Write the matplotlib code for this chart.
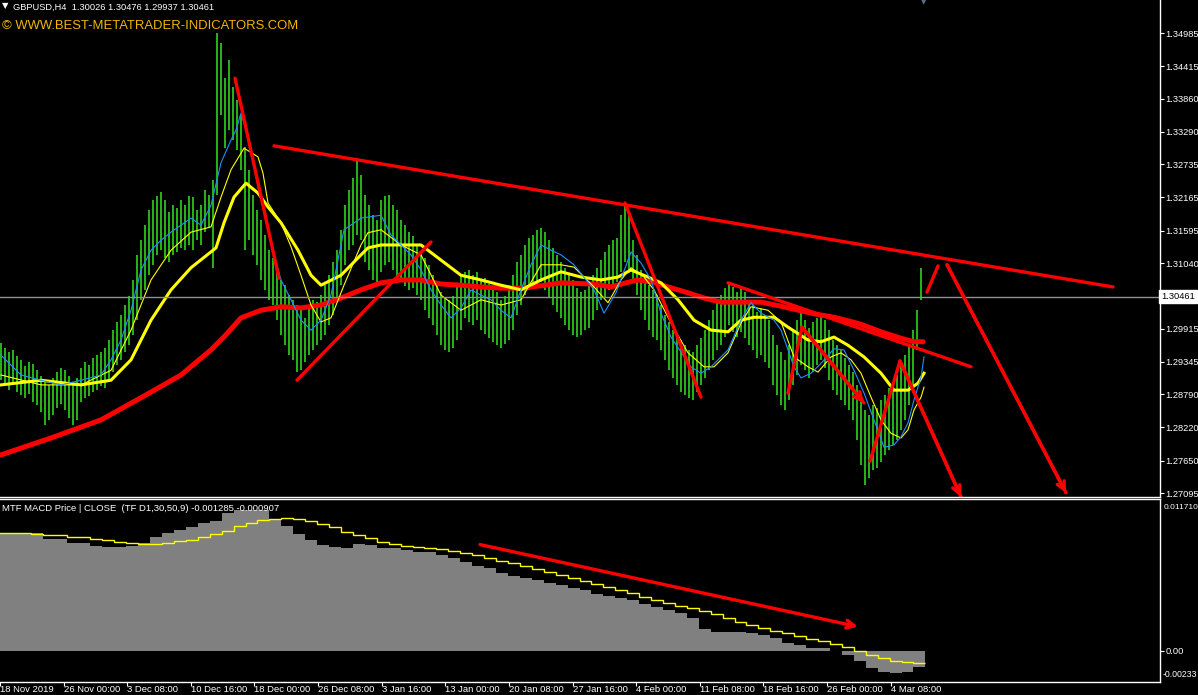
import matplotlib
matplotlib.use("Agg")
import matplotlib.pyplot as plt
import numpy as np

# ------------------------------------------------------------
# Data
# ------------------------------------------------------------
# price bars, one every 2 H4 bars (bar index 0, 2, 4, ...)
bar_high = [1.2967, 1.2958, 1.2951, 1.2955, 1.2945, 1.2938, 1.2927, 1.2934, 1.2931, 1.2920,
            1.2910, 1.2903, 1.2895, 1.2907, 1.2917, 1.2924, 1.2920, 1.2910, 1.2900, 1.2907,
            1.2924, 1.2934, 1.2929, 1.2941, 1.2946, 1.2951, 1.2958, 1.2972, 1.2989, 1.3003,
            1.3015, 1.3032, 1.3048, 1.3075, 1.3118, 1.3143, 1.3169, 1.3195, 1.3212, 1.3219,
            1.3226, 1.3212, 1.3192, 1.3204, 1.3198, 1.3212, 1.3204, 1.3219, 1.3217, 1.3195,
            1.3204, 1.3229, 1.3221, 1.3246, 1.3499, 1.3481, 1.3421, 1.3452, 1.3406, 1.3384,
            1.3358, 1.3303, 1.3264, 1.3221, 1.3195, 1.3178, 1.3152, 1.3126, 1.3113, 1.3092,
            1.3075, 1.3066, 1.3049, 1.3041, 1.3032, 1.3023, 1.3010, 1.3027, 1.3041, 1.3037,
            1.3049, 1.3066, 1.3083, 1.3106, 1.3126, 1.3161, 1.3204, 1.3229, 1.3250, 1.3284,
            1.3255, 1.3221, 1.3204, 1.3186, 1.3178, 1.3212, 1.3219, 1.3221, 1.3204, 1.3195,
            1.3178, 1.3169, 1.3157, 1.3150, 1.3135, 1.3123, 1.3113, 1.3101, 1.3083, 1.3066,
            1.3054, 1.3044, 1.3041, 1.3048, 1.3066, 1.3083, 1.3089, 1.3092, 1.3083, 1.3089,
            1.3075, 1.3078, 1.3068, 1.3061, 1.3054, 1.3041, 1.3048, 1.3066, 1.3083, 1.3106,
            1.3118, 1.3135, 1.3147, 1.3152, 1.3161, 1.3164, 1.3157, 1.3143, 1.3130, 1.3118,
            1.3106, 1.3096, 1.3083, 1.3075, 1.3061, 1.3054, 1.3058, 1.3066, 1.3083, 1.3096,
            1.3109, 1.3123, 1.3135, 1.3143, 1.3147, 1.3186, 1.3207, 1.3186, 1.3143, 1.3118,
            1.3092, 1.3078, 1.3066, 1.3058, 1.3049, 1.3032, 1.3015, 1.3003, 1.2989, 1.2981,
            1.2972, 1.2963, 1.2955, 1.2951, 1.2963, 1.2975, 1.2989, 1.3006, 1.3023, 1.3041,
            1.3049, 1.3061, 1.3070, 1.3063, 1.3054, 1.3061, 1.3054, 1.3041, 1.3032, 1.3020,
            1.3027, 1.3015, 1.3006, 1.2981, 1.2963, 1.2951, 1.2938, 1.2963, 1.2989, 1.3006,
            1.3020, 1.3006, 1.2993, 1.3003, 1.3010, 1.3015, 1.3006, 1.2989, 1.2972, 1.2963,
            1.2955, 1.2941, 1.2929, 1.2917, 1.2895, 1.2873, 1.2852, 1.2843, 1.2861, 1.2855,
            1.2869, 1.2878, 1.2890, 1.2895, 1.2912, 1.2929, 1.2946, 1.2963, 1.2989, 1.3023,
            1.3096]
bar_low = [1.2903, 1.2895, 1.2886, 1.2898, 1.2883, 1.2878, 1.2873, 1.2879, 1.2866, 1.2861,
           1.2849, 1.2826, 1.2835, 1.2843, 1.2855, 1.2862, 1.2852, 1.2838, 1.2826, 1.2835,
           1.2866, 1.2873, 1.2876, 1.2883, 1.2886, 1.2893, 1.2890, 1.2903, 1.2917, 1.2929,
           1.2938, 1.2951, 1.2963, 1.2981, 1.3006, 1.3041, 1.3058, 1.3083, 1.3101, 1.3118,
           1.3126, 1.3113, 1.3106, 1.3118, 1.3123, 1.3130, 1.3126, 1.3135, 1.3126, 1.3143,
           1.3135, 1.3157, 1.3164, 1.3096, 1.3221, 1.3358, 1.3301, 1.3332, 1.3315, 1.3298,
           1.3264, 1.3126, 1.3143, 1.3118, 1.3101, 1.3075, 1.3058, 1.3041, 1.3032, 1.3006,
           1.2981, 1.2963, 1.2946, 1.2938, 1.2917, 1.2920, 1.2934, 1.2946, 1.2955, 1.2963,
           1.2972, 1.2981, 1.2998, 1.3015, 1.3041, 1.3066, 1.3101, 1.3126, 1.3135, 1.3152,
           1.3143, 1.3106, 1.3092, 1.3075, 1.3066, 1.3089, 1.3101, 1.3106, 1.3092, 1.3078,
           1.3071, 1.3065, 1.3058, 1.3061, 1.3049, 1.3041, 1.3023, 1.3010, 1.2998, 1.2981,
           1.2963, 1.2955, 1.2951, 1.2958, 1.2972, 1.2989, 1.3010, 1.3003, 1.2998, 1.3006,
           1.2989, 1.2982, 1.2975, 1.2969, 1.2963, 1.2958, 1.2965, 1.2972, 1.2989, 1.3015,
           1.3032, 1.3049, 1.3058, 1.3061, 1.3066, 1.3071, 1.3058, 1.3044, 1.3032, 1.3020,
           1.3010, 1.2998, 1.2989, 1.2981, 1.2977, 1.2981, 1.2989, 1.2993, 1.3006, 1.3023,
           1.3041, 1.3044, 1.3058, 1.3066, 1.3071, 1.3089, 1.3106, 1.3092, 1.3075, 1.3049,
           1.3023, 1.3006, 1.2989, 1.2977, 1.2972, 1.2955, 1.2938, 1.2920, 1.2907, 1.2895,
           1.2883, 1.2878, 1.2873, 1.2869, 1.2883, 1.2895, 1.2907, 1.2920, 1.2938, 1.2955,
           1.2963, 1.2977, 1.2998, 1.2986, 1.2977, 1.2986, 1.2975, 1.2963, 1.2955, 1.2941,
           1.2946, 1.2934, 1.2924, 1.2895, 1.2878, 1.2861, 1.2852, 1.2869, 1.2895, 1.2912,
           1.2929, 1.2920, 1.2907, 1.2917, 1.2929, 1.2938, 1.2924, 1.2903, 1.2886, 1.2878,
           1.2869, 1.2861, 1.2852, 1.2835, 1.2800, 1.2758, 1.2723, 1.2735, 1.2749, 1.2752,
           1.2763, 1.2775, 1.2783, 1.2792, 1.2800, 1.2818, 1.2835, 1.2861, 1.2895, 1.2955,
           1.3041]

# moving averages (x = H4 bar index)
red_ma_x = [0, 25, 50, 70, 90, 105, 112.5, 120, 130, 140, 150, 160, 170, 180, 190, 200,
            210, 220, 230, 240, 250, 260, 270, 280, 296.5, 305, 313.5, 318.5, 326.5, 333.5,
            343.5, 351.5, 360, 370, 380, 390, 400, 406.5, 416.5, 423.5, 430, 440, 450,
            456.5, 461]
red_ma = [1.2775, 1.2804, 1.2835, 1.2873, 1.2912, 1.2955, 1.2981, 1.3010, 1.3023, 1.3029,
          1.3027, 1.3032, 1.3044, 1.3058, 1.3070, 1.3075, 1.3075, 1.3068, 1.3066, 1.3063,
          1.3061, 1.3061, 1.3065, 1.3070, 1.3068, 1.3063, 1.3071, 1.3075, 1.3071, 1.3063,
          1.3053, 1.3044, 1.3037, 1.3037, 1.3037, 1.3030, 1.3022, 1.3017, 1.3011, 1.3005,
          1.2999, 1.2986, 1.2975, 1.2969, 1.2969]

blue_ma_x = [0, 10, 20, 30, 40, 50, 55, 60, 65, 70, 75, 80, 85, 90, 95, 100, 105, 110, 115,
             117.5, 120, 124, 128.5, 132.5, 135, 140, 145, 150, 155, 160, 165, 171.5, 180,
             190, 195, 200, 205, 210, 215, 220, 225, 230, 235, 240, 245, 250, 255, 260, 265,
             270, 275, 280, 286.5, 296.5, 301.5, 307.5, 315, 320, 325, 330, 335, 345, 350,
             355, 360, 363.5, 370, 375, 380, 386.5, 390, 396.5, 400, 405, 410, 416.5, 421.5,
             426.5, 431.5, 436.5, 441.5, 446.5, 450, 453.5, 456.5, 460, 461.5]
blue_ma = [1.2946, 1.2912, 1.2903, 1.2895, 1.2903, 1.2912, 1.2938, 1.2972, 1.3023, 1.3092,
           1.3126, 1.3143, 1.3157, 1.3169, 1.3181, 1.3169, 1.3203, 1.3276, 1.3315, 1.3332,
           1.3361, 1.3315, 1.3234, 1.3178, 1.3138, 1.3075, 1.3041, 1.3006, 1.2989, 1.3006,
           1.3049, 1.3161, 1.3181, 1.3186, 1.3152, 1.3135, 1.3118, 1.3092, 1.3058, 1.3032,
           1.3010, 1.3027, 1.3058, 1.3049, 1.3041, 1.3023, 1.3010, 1.3058, 1.3101, 1.3135,
           1.3126, 1.3118, 1.3101, 1.3058, 1.3018, 1.3053, 1.3123, 1.3104, 1.3075, 1.3018,
           1.2977, 1.2926, 1.2915, 1.2926, 1.2943, 1.2955, 1.3006, 1.3036, 1.3018, 1.3006,
           1.2989, 1.2926, 1.2907, 1.2915, 1.2932, 1.2957, 1.2955, 1.2920, 1.2881, 1.2835,
           1.2788, 1.2792, 1.2806, 1.2830, 1.2869, 1.2908, 1.2943]

thin_yel_x = [0, 20, 40, 55, 65, 75, 85, 95, 105, 110, 115, 121.5, 128.5, 131, 133.5, 140,
              145, 150, 155, 160, 165, 171.5, 180, 183.5, 190, 200, 210, 220, 230, 240, 250,
              260, 270, 280, 286.5, 296.5, 303.5, 310, 315, 321.5, 326.5, 335, 343.5, 351.5,
              356.5, 363.5, 370, 375, 383.5, 390, 396.5, 403.5, 408.5, 415, 420, 425, 430,
              435, 440, 445, 450, 453.5, 456.5, 460, 461.5]
thin_yel = [1.2912, 1.2895, 1.2895, 1.2920, 1.2989, 1.3075, 1.3126, 1.3157, 1.3166, 1.3217,
            1.3264, 1.3301, 1.3286, 1.3258, 1.3207, 1.3173, 1.3132, 1.3083, 1.3032, 1.3003,
            1.3010, 1.3066, 1.3135, 1.3156, 1.3161, 1.3135, 1.3118, 1.3049, 1.3023, 1.3041,
            1.3032, 1.3041, 1.3101, 1.3101, 1.3097, 1.3063, 1.3036, 1.3075, 1.3096, 1.3080,
            1.3058, 1.3001, 1.2950, 1.2926, 1.2926, 1.2950, 1.3001, 1.3029, 1.3023, 1.3003,
            1.2943, 1.2926, 1.2917, 1.2943, 1.2950, 1.2938, 1.2915, 1.2874, 1.2835, 1.2812,
            1.2804, 1.2818, 1.2852, 1.2874, 1.2891]

thick_yel_x = [0, 20, 40, 55, 65, 75, 85, 95, 107.5, 111.5, 116.5, 122.5, 128.5, 133.5, 140,
               148.5, 155, 160, 170, 180, 183.5, 190, 200, 210, 220, 230, 240, 250, 260,
               270, 280, 290, 300, 308.5, 315, 323.5, 330, 338.5, 346.5, 355, 363.5, 370,
               376.5, 386.5, 393.5, 403.5, 410, 416.5, 423.5, 431.5, 440, 446.5, 453.5,
               458.5, 461.5]
thick_yel = [1.2895, 1.2903, 1.2895, 1.2903, 1.2938, 1.3006, 1.3058, 1.3096, 1.3130, 1.3173,
             1.3217, 1.3241, 1.3224, 1.3200, 1.3173, 1.3126, 1.3083, 1.3066, 1.3083, 1.3118,
             1.3130, 1.3135, 1.3135, 1.3135, 1.3109, 1.3083, 1.3075, 1.3066, 1.3058, 1.3075,
             1.3089, 1.3080, 1.3075, 1.3080, 1.3092, 1.3080, 1.3070, 1.3041, 1.3006, 1.2989,
             1.2986, 1.3006, 1.3011, 1.3011, 1.2994, 1.2972, 1.2969, 1.2977, 1.2963, 1.2943,
             1.2915, 1.2886, 1.2886, 1.2898, 1.2915]

# MTF MACD (daily steps, 6 H4 bars per day)
macd_hist = [0.0092, 0.0092, 0.0092, 0.0092, 0.00874, 0.00874, 0.00842, 0.00842, 0.00819, 0.00811,
             0.00811, 0.00819, 0.00842, 0.00889, 0.0092, 0.00944, 0.00967, 0.00998, 0.01014, 0.01076,
             0.0110, 0.0110, 0.0110, 0.0103, 0.00975, 0.00913, 0.00866, 0.00827, 0.00811, 0.00803,
             0.00835, 0.00827, 0.00803, 0.00803, 0.00788, 0.00772, 0.00772, 0.00749, 0.00725, 0.00694,
             0.00663, 0.00647, 0.00608, 0.00585, 0.00569, 0.00554, 0.0053, 0.00515, 0.00491, 0.00476,
             0.00445, 0.00429, 0.00413, 0.00398, 0.00367, 0.00343, 0.0032, 0.00296, 0.00257, 0.00172,
             0.00148, 0.00148, 0.00148, 0.0014, 0.00125, 0.00101, 0.00062, 0.00047, 0.00023, 0.00023,
             -0.00003, -0.00031, -0.00078, -0.00133, -0.00164, -0.00172, -0.00164, -0.001285]
macd_signal = [0.0092, 0.0092, 0.0092, 0.00913, 0.00905, 0.00905, 0.00889, 0.00889, 0.00874, 0.00866,
               0.0085, 0.00842, 0.00835, 0.00835, 0.00842, 0.00858, 0.00866, 0.00889, 0.00913, 0.00936,
               0.00975, 0.00998, 0.01022, 0.0103, 0.01037, 0.0103, 0.01014, 0.00991, 0.00967, 0.00928,
               0.00905, 0.00881, 0.0085, 0.00835, 0.00819, 0.00811, 0.00803, 0.00796, 0.0078, 0.00764,
               0.00749, 0.00725, 0.00702, 0.00686, 0.00663, 0.0064, 0.00616, 0.00593, 0.00569, 0.00546,
               0.00523, 0.00499, 0.00476, 0.00452, 0.00421, 0.00398, 0.00374, 0.00351, 0.00335, 0.00312,
               0.00289, 0.00257, 0.00226, 0.00203, 0.00179, 0.00156, 0.0014, 0.00117, 0.00094, 0.00078,
               0.00055, 0.00031, 0.0, -0.00031, -0.00055, -0.00078, -0.00086, -0.000907]

# hand drawn trend lines / arrows: (bar index, price)
trend_lines = [
    [(117, 1.3421), (139, 1.3078)],
    [(136.5, 1.3305), (556, 1.3063)],
    [(148, 1.2903), (215, 1.3140)],
    [(312, 1.3207), (350, 1.2874)],
    [(363.5, 1.3070), (485, 1.2926)],
    [(463, 1.3054), (468.5, 1.3099)],
]
arrow_paths = [
    [(393.5, 1.2881), (400.5, 1.2994), (431.5, 1.2864)],
    [(434.5, 1.2764), (449.5, 1.2936), (480, 1.2703)],
    [(473, 1.3101), (532.5, 1.2710)],
]
macd_arrow = [(237.5, 0.0083), (427.5, 0.0019)]

last_price = 1.30461
price_ticks = [1.34985, 1.34415, 1.33860, 1.33290, 1.32735, 1.32165, 1.31595, 1.31040,
               1.29915, 1.29345, 1.28790, 1.28220, 1.27650, 1.27095]
time_ticks = [-4, 28, 60, 92, 124, 156, 188, 220, 252, 284, 316, 348, 380, 412, 444]
time_labels = ["18 Nov 2019", "26 Nov 00:00", "3 Dec 08:00", "10 Dec 16:00", "18 Dec 00:00",
               "26 Dec 08:00", "3 Jan 16:00", "13 Jan 00:00", "20 Jan 08:00", "27 Jan 16:00",
               "4 Feb 00:00", "11 Feb 08:00", "18 Feb 16:00", "26 Feb 00:00", "4 Mar 08:00"]

# ------------------------------------------------------------
# Figure
# ------------------------------------------------------------
plt.rcParams["font.family"] = ["Liberation Sans", "DejaVu Sans"]
W, H = 1198, 695
BG = "black"
FG = "white"
FS = 6.8
FS_AXIS = 6.7
fig = plt.figure(figsize=(W / 100, H / 100), dpi=100, facecolor=BG)


def pane(x0, y0, x1, y1):
    a = fig.add_axes([x0 / W, 1 - y1 / H, (x1 - x0) / W, (y1 - y0) / H])
    a.set_facecolor(BG)
    a.set_xlim(-0.5, 579.5)
    for s in a.spines.values():
        s.set_color(FG)
        s.set_linewidth(1)
    a.spines["left"].set_visible(False)
    return a


ax = pane(0, 0, 1160, 497)
axm = pane(0, 499, 1160, 682)
ax.spines["top"].set_visible(False)

# price pane
ax.set_ylim(1.35551 - 0.0001715 * 497, 1.35551)
bx = np.arange(len(bar_high)) * 2
ax.vlines(bx, bar_low, bar_high, colors="#2ee81e", linewidths=1.1)

ax.plot(red_ma_x, red_ma, color="red", lw=3.6, solid_capstyle="round")
ax.plot(thick_yel_x, thick_yel, color="yellow", lw=2.2)
ax.plot(thin_yel_x, thin_yel, color="yellow", lw=0.8)
ax.plot(blue_ma_x, blue_ma, color="#1e90ff", lw=0.8)

ax.axhline(last_price, color="#909090", lw=1)

for seg in trend_lines:
    xs, ys = zip(*seg)
    ax.plot(xs, ys, color="red", lw=2.4, solid_capstyle="round")
for path in arrow_paths:
    xs, ys = zip(*path)
    ax.plot(xs, ys, color="red", lw=2.4, solid_capstyle="round")
    ax.annotate("", xy=path[-1], xytext=path[-2],
                arrowprops=dict(arrowstyle="->", color="red", lw=2.4,
                                mutation_scale=14, shrinkA=0, shrinkB=0))

ax.yaxis.tick_right()
ax.set_yticks(price_ticks)
ax.set_yticklabels([f"{v:.5f}" for v in price_ticks])
ax.tick_params(axis="y", colors=FG, labelcolor=FG, labelsize=FS_AXIS, length=3, pad=1)
ax.set_xticks([])
ax.text(1.001, last_price, f"{last_price:.5f}", transform=ax.get_yaxis_transform(),
        color="black", fontsize=FS_AXIS, va="center", ha="left",
        bbox=dict(boxstyle="square,pad=0.2", fc="white", ec="white"))

fig.text(2 / W, 1 - 6 / H, "\u25bc", color=FG, fontsize=6, va="center", ha="left",
         family="DejaVu Sans")
fig.text(13 / W, 1 - 7 / H, "GBPUSD,H4  1.30026 1.30476 1.29937 1.30461", color=FG,
         fontsize=6.7, va="center", ha="left")
fig.text(2 / W, 1 - 26 / H, "\u00a9 WWW.BEST-METATRADER-INDICATORS.COM", color="#f2b600",
         fontsize=9.4, va="center", ha="left")
fig.text(924 / W, 1 - 2 / H, "\u25bc", color="#5a6a80", fontsize=5, va="center",
         ha="center", family="DejaVu Sans")

# MACD pane
axm.set_ylim(-0.002418, 0.011856)
edges = np.arange(len(macd_hist) + 1) * 6 - 6.5
axm.stairs(macd_hist, edges, baseline=0, fill=True, color="#808080")
axm.stairs(macd_signal, edges, baseline=None, color="yellow", lw=1)
axm.annotate("", xy=macd_arrow[1], xytext=macd_arrow[0],
             arrowprops=dict(arrowstyle="->", color="red", lw=2.4,
                             mutation_scale=14, shrinkA=0, shrinkB=0))
axm.yaxis.tick_right()
axm.set_yticks([0.0])
axm.set_yticklabels(["0.00"])
axm.tick_params(axis="y", colors=FG, labelcolor=FG, labelsize=FS_AXIS, length=3, pad=1)
axm.text(1.003, 0.955, "0.011710", transform=axm.transAxes, color=FG, fontsize=6.0,
         va="center", ha="left")
axm.text(1.002, 0.04, "-0.00233", transform=axm.transAxes, color=FG, fontsize=6.3,
         va="center", ha="left")
axm.text(2 / 1160, 0.95, "MTF MACD Price | CLOSE  (TF D1,30,50,9) -0.001285 -0.000907",
         transform=axm.transAxes, color=FG, fontsize=6.8, va="center", ha="left")

axm.set_xticks(time_ticks)
axm.set_xticklabels(time_labels)
axm.tick_params(axis="x", colors=FG, labelcolor=FG, labelsize=FS, length=3, pad=-0.5)
for lab in axm.get_xticklabels():
    lab.set_ha("left")

fig.savefig("out.png", dpi=100, facecolor=BG)
